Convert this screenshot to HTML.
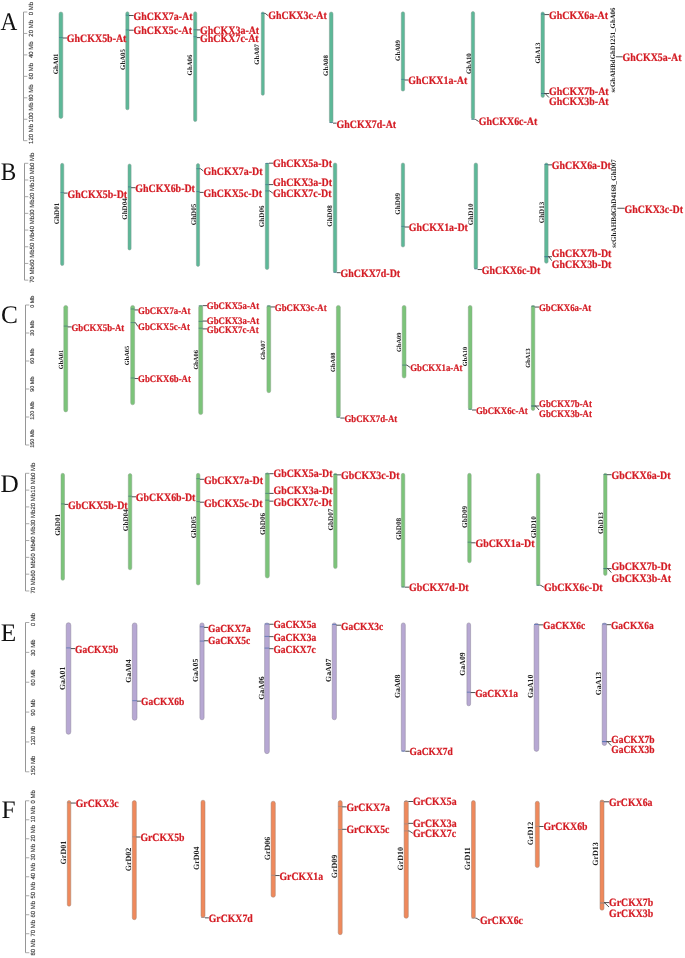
<!DOCTYPE html>
<html><head><meta charset="utf-8"><title>CKX chromosome map</title>
<style>html,body{margin:0;padding:0;background:#fff;}svg{display:block;will-change:transform;}</style>
</head><body>
<svg width="685" height="958" viewBox="0 0 685 958" text-rendering="geometricPrecision">
<rect width="685" height="958" fill="#fff"/>
<text transform="translate(0.4,30.3) scale(0.92,1.0)" font-family='"Liberation Serif", serif' font-size="25.3" fill="#111">A</text>
<line x1="23.5" y1="12" x2="23.5" y2="140.7" stroke="#8a8a8a" stroke-width="0.9"/>
<line x1="23.5" y1="12" x2="27.3" y2="12" stroke="#a0a0a0" stroke-width="0.9"/>
<text transform="translate(32.5,15.2) rotate(-90)" font-family='"Liberation Sans", sans-serif' font-size="6.0" fill="#333" stroke="#333" stroke-width="0.12">0 Mb</text>
<line x1="23.5" y1="33.45" x2="27.3" y2="33.45" stroke="#a0a0a0" stroke-width="0.9"/>
<text transform="translate(32.5,36.65) rotate(-90)" font-family='"Liberation Sans", sans-serif' font-size="6.0" fill="#333" stroke="#333" stroke-width="0.12">20 Mb</text>
<line x1="23.5" y1="54.9" x2="27.3" y2="54.9" stroke="#a0a0a0" stroke-width="0.9"/>
<text transform="translate(32.5,58.1) rotate(-90)" font-family='"Liberation Sans", sans-serif' font-size="6.0" fill="#333" stroke="#333" stroke-width="0.12">40 Mb</text>
<line x1="23.5" y1="76.35" x2="27.3" y2="76.35" stroke="#a0a0a0" stroke-width="0.9"/>
<text transform="translate(32.5,79.55) rotate(-90)" font-family='"Liberation Sans", sans-serif' font-size="6.0" fill="#333" stroke="#333" stroke-width="0.12">60 Mb</text>
<line x1="23.5" y1="97.8" x2="27.3" y2="97.8" stroke="#a0a0a0" stroke-width="0.9"/>
<text transform="translate(32.5,101) rotate(-90)" font-family='"Liberation Sans", sans-serif' font-size="6.0" fill="#333" stroke="#333" stroke-width="0.12">80 Mb</text>
<line x1="23.5" y1="119.25" x2="27.3" y2="119.25" stroke="#a0a0a0" stroke-width="0.9"/>
<text transform="translate(32.5,122.45) rotate(-90)" font-family='"Liberation Sans", sans-serif' font-size="6.0" fill="#333" stroke="#333" stroke-width="0.12">100 Mb</text>
<line x1="23.5" y1="140.7" x2="27.3" y2="140.7" stroke="#a0a0a0" stroke-width="0.9"/>
<text transform="translate(32.5,143.9) rotate(-90)" font-family='"Liberation Sans", sans-serif' font-size="6.0" fill="#333" stroke="#333" stroke-width="0.12">120 Mb</text>
<rect x="59" y="12" width="3.8" height="106.5" rx="1.9" ry="1.9" fill="#5db898" stroke="#7f9a90" stroke-width="0.5"/>
<text transform="translate(57.9,63.9) rotate(-90)" text-anchor="middle" font-family='"Liberation Serif", serif' font-weight="bold" font-size="6.8" fill="#222">GhA01</text>
<rect x="125.8" y="11.8" width="3.2" height="98" rx="1.6" ry="1.6" fill="#5db898" stroke="#7f9a90" stroke-width="0.5"/>
<text transform="translate(125.4,59.5) rotate(-90)" text-anchor="middle" font-family='"Liberation Serif", serif' font-weight="bold" font-size="6.8" fill="#222">GhA05</text>
<rect x="193.6" y="11.8" width="3.2" height="109.7" rx="1.6" ry="1.6" fill="#5db898" stroke="#7f9a90" stroke-width="0.5"/>
<text transform="translate(192.3,65) rotate(-90)" text-anchor="middle" font-family='"Liberation Serif", serif' font-weight="bold" font-size="6.8" fill="#222">GhA06</text>
<rect x="261.3" y="12" width="3" height="83.3" rx="1.5" ry="1.5" fill="#5db898" stroke="#7f9a90" stroke-width="0.5"/>
<text transform="translate(259.2,54.4) rotate(-90)" text-anchor="middle" font-family='"Liberation Serif", serif' font-weight="bold" font-size="6.8" fill="#222">GhA07</text>
<rect x="329.4" y="12" width="3.6" height="110.8" rx="1.8" ry="1.8" fill="#5db898" stroke="#7f9a90" stroke-width="0.5"/>
<text transform="translate(328.3,65.5) rotate(-90)" text-anchor="middle" font-family='"Liberation Serif", serif' font-weight="bold" font-size="6.8" fill="#222">GhA08</text>
<rect x="401.3" y="11.8" width="3.3" height="79.3" rx="1.65" ry="1.65" fill="#5db898" stroke="#7f9a90" stroke-width="0.5"/>
<text transform="translate(400,50.5) rotate(-90)" text-anchor="middle" font-family='"Liberation Serif", serif' font-weight="bold" font-size="6.8" fill="#222">GhA09</text>
<rect x="471.3" y="11.5" width="3.3" height="107.7" rx="1.65" ry="1.65" fill="#5db898" stroke="#7f9a90" stroke-width="0.5"/>
<text transform="translate(470.6,63.7) rotate(-90)" text-anchor="middle" font-family='"Liberation Serif", serif' font-weight="bold" font-size="6.8" fill="#222">GhA10</text>
<rect x="541" y="12" width="3.4" height="85.5" rx="1.7" ry="1.7" fill="#5db898" stroke="#7f9a90" stroke-width="0.5"/>
<text transform="translate(540.2,53.1) rotate(-90)" text-anchor="middle" font-family='"Liberation Serif", serif' font-weight="bold" font-size="6.8" fill="#222">GhA13</text>
<text transform="translate(615.4,50.1) rotate(-90)" text-anchor="middle" font-family='"Liberation Serif", serif' font-weight="bold" font-size="6.8" fill="#222">scGhAHBdGhD1251_GhA06</text>
<line x1="59" y1="37.5" x2="62.8" y2="37.5" stroke="#3b7a90" stroke-width="0.7"/>
<line x1="62.8" y1="38" x2="67" y2="38" stroke="#454545" stroke-width="0.95"/>
<text transform="translate(66.8,42.31) scale(1,1.14)" font-family='"Liberation Serif", serif' font-weight="bold" font-size="9.95" fill="#d41c24" stroke="#d41c24" stroke-width="0.2">GhCKX5b-At</text>
<line x1="125.8" y1="15.2" x2="129" y2="15.2" stroke="#3b7a90" stroke-width="0.7"/>
<line x1="129" y1="15.5" x2="133.7" y2="15.5" stroke="#454545" stroke-width="0.95"/>
<text transform="translate(133.5,19.61) scale(1,1.14)" font-family='"Liberation Serif", serif' font-weight="bold" font-size="9.95" fill="#d41c24" stroke="#d41c24" stroke-width="0.2">GhCKX7a-At</text>
<line x1="125.8" y1="29.9" x2="129" y2="29.9" stroke="#3b7a90" stroke-width="0.7"/>
<line x1="129" y1="30.2" x2="133.7" y2="30.2" stroke="#454545" stroke-width="0.95"/>
<text transform="translate(133.5,34.31) scale(1,1.14)" font-family='"Liberation Serif", serif' font-weight="bold" font-size="9.95" fill="#d41c24" stroke="#d41c24" stroke-width="0.2">GhCKX5c-At</text>
<line x1="193.6" y1="29.7" x2="196.8" y2="29.7" stroke="#3b7a90" stroke-width="0.7"/>
<line x1="196.8" y1="29.9" x2="200.3" y2="29.9" stroke="#454545" stroke-width="0.95"/>
<text transform="translate(200.1,33.91) scale(1,1.14)" font-family='"Liberation Serif", serif' font-weight="bold" font-size="9.95" fill="#d41c24" stroke="#d41c24" stroke-width="0.2">GhCKX3a-At</text>
<line x1="193.6" y1="36.7" x2="196.8" y2="36.7" stroke="#3b7a90" stroke-width="0.7"/>
<line x1="196.8" y1="37.6" x2="200.3" y2="37.6" stroke="#454545" stroke-width="0.95"/>
<text transform="translate(200.1,42.31) scale(1,1.14)" font-family='"Liberation Serif", serif' font-weight="bold" font-size="9.95" fill="#d41c24" stroke="#d41c24" stroke-width="0.2">GhCKX7c-At</text>
<line x1="261.3" y1="13.3" x2="264.3" y2="13.3" stroke="#3b7a90" stroke-width="0.7"/>
<polyline points="264.3,13.3 265.1,13.3 268.1,15.6" fill="none" stroke="#454545" stroke-width="0.95"/>
<text transform="translate(268.2,19.41) scale(1,1.14)" font-family='"Liberation Serif", serif' font-weight="bold" font-size="9.95" fill="#d41c24" stroke="#d41c24" stroke-width="0.2">GhCKX3c-At</text>
<line x1="329.4" y1="122.5" x2="333" y2="122.5" stroke="#3b7a90" stroke-width="0.7"/>
<line x1="333" y1="123.15" x2="336.7" y2="123.15" stroke="#454545" stroke-width="0.95"/>
<text transform="translate(336.5,127.61) scale(1,1.14)" font-family='"Liberation Serif", serif' font-weight="bold" font-size="9.95" fill="#d41c24" stroke="#d41c24" stroke-width="0.2">GhCKX7d-At</text>
<line x1="401.3" y1="79.4" x2="404.6" y2="79.4" stroke="#3b7a90" stroke-width="0.7"/>
<line x1="404.6" y1="80" x2="408.4" y2="80" stroke="#454545" stroke-width="0.95"/>
<text transform="translate(408.2,84.41) scale(1,1.14)" font-family='"Liberation Serif", serif' font-weight="bold" font-size="9.95" fill="#d41c24" stroke="#d41c24" stroke-width="0.2">GhCKX1a-At</text>
<line x1="471.3" y1="119.4" x2="474.6" y2="119.4" stroke="#3b7a90" stroke-width="0.7"/>
<polyline points="474.6,119.4 475.4,119.4 478.7,121.5" fill="none" stroke="#454545" stroke-width="0.95"/>
<text transform="translate(478.8,125.31) scale(1,1.14)" font-family='"Liberation Serif", serif' font-weight="bold" font-size="9.95" fill="#d41c24" stroke="#d41c24" stroke-width="0.2">GhCKX6c-At</text>
<line x1="541" y1="14" x2="544.4" y2="14" stroke="#3b7a90" stroke-width="0.7"/>
<line x1="544.4" y1="14.6" x2="549.2" y2="14.6" stroke="#454545" stroke-width="0.95"/>
<text transform="translate(549,19.01) scale(1,1.14)" font-family='"Liberation Serif", serif' font-weight="bold" font-size="9.95" fill="#d41c24" stroke="#d41c24" stroke-width="0.2">GhCKX6a-At</text>
<line x1="541" y1="93.5" x2="544.4" y2="93.5" stroke="#3b7a90" stroke-width="0.7"/>
<line x1="544.4" y1="93.5" x2="549.2" y2="93.5" stroke="#454545" stroke-width="0.95"/>
<text transform="translate(549,94.71) scale(1,1.14)" font-family='"Liberation Serif", serif' font-weight="bold" font-size="9.95" fill="#d41c24" stroke="#d41c24" stroke-width="0.2">GhCKX7b-At</text>
<line x1="541" y1="93.5" x2="544.4" y2="93.5" stroke="#3b7a90" stroke-width="0.7"/>
<polyline points="544.4,93.5 545.2,93.5 548.9,97.5" fill="none" stroke="#454545" stroke-width="0.95"/>
<text transform="translate(549,105.21) scale(1,1.14)" font-family='"Liberation Serif", serif' font-weight="bold" font-size="9.95" fill="#d41c24" stroke="#d41c24" stroke-width="0.2">GhCKX3b-At</text>
<line x1="615.9" y1="56.8" x2="622.7" y2="56.8" stroke="#454545" stroke-width="0.95"/>
<text transform="translate(622.5,61.01) scale(1,1.14)" font-family='"Liberation Serif", serif' font-weight="bold" font-size="9.95" fill="#d41c24" stroke="#d41c24" stroke-width="0.2">GhCKX5a-At</text>
<text transform="translate(0.8,180.3) scale(0.92,1.0)" font-family='"Liberation Serif", serif' font-size="25.3" fill="#111">B</text>
<line x1="24.5" y1="163.3" x2="24.5" y2="280.13" stroke="#8a8a8a" stroke-width="0.9"/>
<line x1="24.5" y1="163.3" x2="28.3" y2="163.3" stroke="#a0a0a0" stroke-width="0.9"/>
<text transform="translate(34.1,165.9) rotate(-90)" font-family='"Liberation Sans", sans-serif' font-size="6.0" fill="#333" stroke="#333" stroke-width="0.12">0 Mb</text>
<line x1="24.5" y1="179.99" x2="28.3" y2="179.99" stroke="#a0a0a0" stroke-width="0.9"/>
<text transform="translate(34.1,182.59) rotate(-90)" font-family='"Liberation Sans", sans-serif' font-size="6.0" fill="#333" stroke="#333" stroke-width="0.12">10 Mb</text>
<line x1="24.5" y1="196.68" x2="28.3" y2="196.68" stroke="#a0a0a0" stroke-width="0.9"/>
<text transform="translate(34.1,199.28) rotate(-90)" font-family='"Liberation Sans", sans-serif' font-size="6.0" fill="#333" stroke="#333" stroke-width="0.12">20 Mb</text>
<line x1="24.5" y1="213.37" x2="28.3" y2="213.37" stroke="#a0a0a0" stroke-width="0.9"/>
<text transform="translate(34.1,215.97) rotate(-90)" font-family='"Liberation Sans", sans-serif' font-size="6.0" fill="#333" stroke="#333" stroke-width="0.12">30 Mb</text>
<line x1="24.5" y1="230.06" x2="28.3" y2="230.06" stroke="#a0a0a0" stroke-width="0.9"/>
<text transform="translate(34.1,232.66) rotate(-90)" font-family='"Liberation Sans", sans-serif' font-size="6.0" fill="#333" stroke="#333" stroke-width="0.12">40 Mb</text>
<line x1="24.5" y1="246.75" x2="28.3" y2="246.75" stroke="#a0a0a0" stroke-width="0.9"/>
<text transform="translate(34.1,249.35) rotate(-90)" font-family='"Liberation Sans", sans-serif' font-size="6.0" fill="#333" stroke="#333" stroke-width="0.12">50 Mb</text>
<line x1="24.5" y1="263.44" x2="28.3" y2="263.44" stroke="#a0a0a0" stroke-width="0.9"/>
<text transform="translate(34.1,266.04) rotate(-90)" font-family='"Liberation Sans", sans-serif' font-size="6.0" fill="#333" stroke="#333" stroke-width="0.12">60 Mb</text>
<line x1="24.5" y1="280.13" x2="28.3" y2="280.13" stroke="#a0a0a0" stroke-width="0.9"/>
<text transform="translate(34.1,282.73) rotate(-90)" font-family='"Liberation Sans", sans-serif' font-size="6.0" fill="#333" stroke="#333" stroke-width="0.12">70 Mb</text>
<rect x="60.6" y="163.3" width="3.2" height="102.2" rx="1.6" ry="1.6" fill="#5db898" stroke="#7f9a90" stroke-width="0.5"/>
<text transform="translate(59.2,213.5) rotate(-90)" text-anchor="middle" font-family='"Liberation Serif", serif' font-weight="bold" font-size="7.1" fill="#222">GhD01</text>
<rect x="128" y="164" width="3.1" height="86" rx="1.55" ry="1.55" fill="#5db898" stroke="#7f9a90" stroke-width="0.5"/>
<text transform="translate(126.9,209) rotate(-90)" text-anchor="middle" font-family='"Liberation Serif", serif' font-weight="bold" font-size="7.1" fill="#222">GhD04</text>
<rect x="196.4" y="163.6" width="3.2" height="102.8" rx="1.6" ry="1.6" fill="#5db898" stroke="#7f9a90" stroke-width="0.5"/>
<text transform="translate(195.9,214.5) rotate(-90)" text-anchor="middle" font-family='"Liberation Serif", serif' font-weight="bold" font-size="7.1" fill="#222">GhD05</text>
<rect x="265.3" y="163" width="3.5" height="106.6" rx="1.75" ry="1.75" fill="#5db898" stroke="#7f9a90" stroke-width="0.5"/>
<text transform="translate(264.1,216.3) rotate(-90)" text-anchor="middle" font-family='"Liberation Serif", serif' font-weight="bold" font-size="7.1" fill="#222">GhD06</text>
<rect x="333.3" y="163" width="3.5" height="109.5" rx="1.75" ry="1.75" fill="#5db898" stroke="#7f9a90" stroke-width="0.5"/>
<text transform="translate(332.3,216) rotate(-90)" text-anchor="middle" font-family='"Liberation Serif", serif' font-weight="bold" font-size="7.1" fill="#222">GhD08</text>
<rect x="401.3" y="163" width="3.3" height="84" rx="1.65" ry="1.65" fill="#5db898" stroke="#7f9a90" stroke-width="0.5"/>
<text transform="translate(399.9,203.8) rotate(-90)" text-anchor="middle" font-family='"Liberation Serif", serif' font-weight="bold" font-size="7.1" fill="#222">GhD09</text>
<rect x="474.1" y="163" width="3.5" height="106" rx="1.75" ry="1.75" fill="#5db898" stroke="#7f9a90" stroke-width="0.5"/>
<text transform="translate(473,214.3) rotate(-90)" text-anchor="middle" font-family='"Liberation Serif", serif' font-weight="bold" font-size="7.1" fill="#222">GhD10</text>
<rect x="544.6" y="163" width="3.5" height="100.3" rx="1.75" ry="1.75" fill="#5db898" stroke="#7f9a90" stroke-width="0.5"/>
<text transform="translate(543.6,212.5) rotate(-90)" text-anchor="middle" font-family='"Liberation Serif", serif' font-weight="bold" font-size="7.1" fill="#222">GhD13</text>
<text transform="translate(616,203.5) rotate(-90)" text-anchor="middle" font-family='"Liberation Serif", serif' font-weight="bold" font-size="7.1" fill="#222">scGhAHBdGhD4168_GhD07</text>
<line x1="60.6" y1="192.5" x2="63.8" y2="192.5" stroke="#3b7a90" stroke-width="0.7"/>
<line x1="63.8" y1="193.1" x2="67.7" y2="193.1" stroke="#454545" stroke-width="0.95"/>
<text transform="translate(67.5,197.51) scale(1,1.14)" font-family='"Liberation Serif", serif' font-weight="bold" font-size="9.95" fill="#d41c24" stroke="#d41c24" stroke-width="0.2">GhCKX5b-Dt</text>
<line x1="128" y1="186.9" x2="131.1" y2="186.9" stroke="#3b7a90" stroke-width="0.7"/>
<line x1="131.1" y1="187.7" x2="135.5" y2="187.7" stroke="#454545" stroke-width="0.95"/>
<text transform="translate(135.3,192.31) scale(1,1.14)" font-family='"Liberation Serif", serif' font-weight="bold" font-size="9.95" fill="#d41c24" stroke="#d41c24" stroke-width="0.2">GhCKX6b-Dt</text>
<line x1="196.4" y1="168.7" x2="199.6" y2="168.7" stroke="#3b7a90" stroke-width="0.7"/>
<polyline points="199.6,168.7 200.4,168.7 203.4,171" fill="none" stroke="#454545" stroke-width="0.95"/>
<text transform="translate(203.5,174.81) scale(1,1.14)" font-family='"Liberation Serif", serif' font-weight="bold" font-size="9.95" fill="#d41c24" stroke="#d41c24" stroke-width="0.2">GhCKX7a-Dt</text>
<line x1="196.4" y1="191.6" x2="199.6" y2="191.6" stroke="#3b7a90" stroke-width="0.7"/>
<line x1="199.6" y1="192.4" x2="203.7" y2="192.4" stroke="#454545" stroke-width="0.95"/>
<text transform="translate(203.5,197.01) scale(1,1.14)" font-family='"Liberation Serif", serif' font-weight="bold" font-size="9.95" fill="#d41c24" stroke="#d41c24" stroke-width="0.2">GhCKX5c-Dt</text>
<line x1="265.3" y1="163.5" x2="268.8" y2="163.5" stroke="#3b7a90" stroke-width="0.7"/>
<line x1="268.8" y1="163.2" x2="273.2" y2="163.2" stroke="#454545" stroke-width="0.95"/>
<text transform="translate(273,166.71) scale(1,1.14)" font-family='"Liberation Serif", serif' font-weight="bold" font-size="9.95" fill="#d41c24" stroke="#d41c24" stroke-width="0.2">GhCKX5a-Dt</text>
<line x1="265.3" y1="184.6" x2="268.8" y2="184.6" stroke="#3b7a90" stroke-width="0.7"/>
<line x1="268.8" y1="184.6" x2="273.2" y2="184.6" stroke="#454545" stroke-width="0.95"/>
<text transform="translate(273,185.81) scale(1,1.14)" font-family='"Liberation Serif", serif' font-weight="bold" font-size="9.95" fill="#d41c24" stroke="#d41c24" stroke-width="0.2">GhCKX3a-Dt</text>
<line x1="265.3" y1="190.9" x2="268.8" y2="190.9" stroke="#3b7a90" stroke-width="0.7"/>
<polyline points="268.8,190.9 269.6,190.9 272.9,193.2" fill="none" stroke="#454545" stroke-width="0.95"/>
<text transform="translate(273,197.01) scale(1,1.14)" font-family='"Liberation Serif", serif' font-weight="bold" font-size="9.95" fill="#d41c24" stroke="#d41c24" stroke-width="0.2">GhCKX7c-Dt</text>
<line x1="333.3" y1="272.3" x2="336.8" y2="272.3" stroke="#3b7a90" stroke-width="0.7"/>
<line x1="336.8" y1="272.7" x2="340.7" y2="272.7" stroke="#454545" stroke-width="0.95"/>
<text transform="translate(340.5,276.91) scale(1,1.14)" font-family='"Liberation Serif", serif' font-weight="bold" font-size="9.95" fill="#d41c24" stroke="#d41c24" stroke-width="0.2">GhCKX7d-Dt</text>
<line x1="401.3" y1="226.4" x2="404.6" y2="226.4" stroke="#3b7a90" stroke-width="0.7"/>
<line x1="404.6" y1="227" x2="409" y2="227" stroke="#454545" stroke-width="0.95"/>
<text transform="translate(408.8,231.41) scale(1,1.14)" font-family='"Liberation Serif", serif' font-weight="bold" font-size="9.95" fill="#d41c24" stroke="#d41c24" stroke-width="0.2">GhCKX1a-Dt</text>
<line x1="474.1" y1="268.8" x2="477.6" y2="268.8" stroke="#3b7a90" stroke-width="0.7"/>
<line x1="477.6" y1="269.55" x2="481.9" y2="269.55" stroke="#454545" stroke-width="0.95"/>
<text transform="translate(481.7,274.11) scale(1,1.14)" font-family='"Liberation Serif", serif' font-weight="bold" font-size="9.95" fill="#d41c24" stroke="#d41c24" stroke-width="0.2">GhCKX6c-Dt</text>
<line x1="544.6" y1="164.5" x2="548.1" y2="164.5" stroke="#3b7a90" stroke-width="0.7"/>
<line x1="548.1" y1="164.85" x2="552" y2="164.85" stroke="#454545" stroke-width="0.95"/>
<text transform="translate(551.8,169.01) scale(1,1.14)" font-family='"Liberation Serif", serif' font-weight="bold" font-size="9.95" fill="#d41c24" stroke="#d41c24" stroke-width="0.2">GhCKX6a-Dt</text>
<line x1="544.6" y1="256.7" x2="548.1" y2="256.7" stroke="#3b7a90" stroke-width="0.7"/>
<line x1="548.1" y1="256.7" x2="552" y2="256.7" stroke="#454545" stroke-width="0.95"/>
<text transform="translate(551.8,257.01) scale(1,1.14)" font-family='"Liberation Serif", serif' font-weight="bold" font-size="9.95" fill="#d41c24" stroke="#d41c24" stroke-width="0.2">GhCKX7b-Dt</text>
<line x1="544.6" y1="256.7" x2="548.1" y2="256.7" stroke="#3b7a90" stroke-width="0.7"/>
<polyline points="548.1,256.7 548.9,256.7 551.7,260.7" fill="none" stroke="#454545" stroke-width="0.95"/>
<text transform="translate(551.8,268.21) scale(1,1.14)" font-family='"Liberation Serif", serif' font-weight="bold" font-size="9.95" fill="#d41c24" stroke="#d41c24" stroke-width="0.2">GhCKX3b-Dt</text>
<line x1="617.3" y1="208.25" x2="624.7" y2="208.25" stroke="#454545" stroke-width="0.95"/>
<text transform="translate(624.5,212.91) scale(1,1.14)" font-family='"Liberation Serif", serif' font-weight="bold" font-size="9.95" fill="#d41c24" stroke="#d41c24" stroke-width="0.2">GhCKX3c-Dt</text>
<text transform="translate(1.1,322.9) scale(1.0,1.0)" font-family='"Liberation Serif", serif' font-size="25.3" fill="#111">C</text>
<line x1="25.5" y1="305" x2="25.5" y2="445" stroke="#8a8a8a" stroke-width="0.9"/>
<line x1="25.5" y1="305" x2="29.3" y2="305" stroke="#a0a0a0" stroke-width="0.9"/>
<text transform="translate(34.1,307.8) rotate(-90)" font-family='"Liberation Sans", sans-serif' font-size="5.5" fill="#333" stroke="#333" stroke-width="0.12">0 Mb</text>
<line x1="25.5" y1="333" x2="29.3" y2="333" stroke="#a0a0a0" stroke-width="0.9"/>
<text transform="translate(34.1,335.8) rotate(-90)" font-family='"Liberation Sans", sans-serif' font-size="5.5" fill="#333" stroke="#333" stroke-width="0.12">30 Mb</text>
<line x1="25.5" y1="361" x2="29.3" y2="361" stroke="#a0a0a0" stroke-width="0.9"/>
<text transform="translate(34.1,363.8) rotate(-90)" font-family='"Liberation Sans", sans-serif' font-size="5.5" fill="#333" stroke="#333" stroke-width="0.12">60 Mb</text>
<line x1="25.5" y1="389" x2="29.3" y2="389" stroke="#a0a0a0" stroke-width="0.9"/>
<text transform="translate(34.1,391.8) rotate(-90)" font-family='"Liberation Sans", sans-serif' font-size="5.5" fill="#333" stroke="#333" stroke-width="0.12">90 Mb</text>
<line x1="25.5" y1="417" x2="29.3" y2="417" stroke="#a0a0a0" stroke-width="0.9"/>
<text transform="translate(34.1,419.8) rotate(-90)" font-family='"Liberation Sans", sans-serif' font-size="5.5" fill="#333" stroke="#333" stroke-width="0.12">120 Mb</text>
<line x1="25.5" y1="445" x2="29.3" y2="445" stroke="#a0a0a0" stroke-width="0.9"/>
<text transform="translate(34.1,447.8) rotate(-90)" font-family='"Liberation Sans", sans-serif' font-size="5.5" fill="#333" stroke="#333" stroke-width="0.12">150 Mb</text>
<rect x="63.8" y="305.4" width="3.9" height="106.5" rx="1.95" ry="1.95" fill="#7cc47a" stroke="#8aa58a" stroke-width="0.5"/>
<text transform="translate(62.9,359.6) rotate(-90)" text-anchor="middle" font-family='"Liberation Serif", serif' font-weight="bold" font-size="6.35" fill="#222">GbA01</text>
<rect x="130.7" y="305.4" width="3.9" height="99.4" rx="1.95" ry="1.95" fill="#7cc47a" stroke="#8aa58a" stroke-width="0.5"/>
<text transform="translate(128.8,355.5) rotate(-90)" text-anchor="middle" font-family='"Liberation Serif", serif' font-weight="bold" font-size="6.35" fill="#222">GbA05</text>
<rect x="198.7" y="305.4" width="4" height="109.2" rx="2" ry="2" fill="#7cc47a" stroke="#8aa58a" stroke-width="0.5"/>
<text transform="translate(198.2,359.9) rotate(-90)" text-anchor="middle" font-family='"Liberation Serif", serif' font-weight="bold" font-size="6.35" fill="#222">GbA06</text>
<rect x="266.9" y="305.4" width="3.8" height="87.3" rx="1.9" ry="1.9" fill="#7cc47a" stroke="#8aa58a" stroke-width="0.5"/>
<text transform="translate(265.3,350) rotate(-90)" text-anchor="middle" font-family='"Liberation Serif", serif' font-weight="bold" font-size="6.35" fill="#222">GbA07</text>
<rect x="336.4" y="305.4" width="3.9" height="112.1" rx="1.95" ry="1.95" fill="#7cc47a" stroke="#8aa58a" stroke-width="0.5"/>
<text transform="translate(335.2,362.2) rotate(-90)" text-anchor="middle" font-family='"Liberation Serif", serif' font-weight="bold" font-size="6.35" fill="#222">GbA08</text>
<rect x="402.2" y="305.4" width="3.8" height="72.6" rx="1.9" ry="1.9" fill="#7cc47a" stroke="#8aa58a" stroke-width="0.5"/>
<text transform="translate(400.6,342.3) rotate(-90)" text-anchor="middle" font-family='"Liberation Serif", serif' font-weight="bold" font-size="6.35" fill="#222">GbA09</text>
<rect x="468.3" y="305.4" width="3.7" height="104.1" rx="1.85" ry="1.85" fill="#7cc47a" stroke="#8aa58a" stroke-width="0.5"/>
<text transform="translate(466.7,356.6) rotate(-90)" text-anchor="middle" font-family='"Liberation Serif", serif' font-weight="bold" font-size="6.35" fill="#222">GbA10</text>
<rect x="531.3" y="305.4" width="3.5" height="105.1" rx="1.75" ry="1.75" fill="#7cc47a" stroke="#8aa58a" stroke-width="0.5"/>
<text transform="translate(530.1,358.1) rotate(-90)" text-anchor="middle" font-family='"Liberation Serif", serif' font-weight="bold" font-size="6.35" fill="#222">GbA13</text>
<line x1="63.8" y1="326.1" x2="67.7" y2="326.1" stroke="#3e7a78" stroke-width="0.7"/>
<line x1="67.7" y1="326.9" x2="71.7" y2="326.9" stroke="#454545" stroke-width="0.95"/>
<text transform="translate(71.5,331.09) scale(1,1.14)" font-family='"Liberation Serif", serif' font-weight="bold" font-size="8.8" fill="#d41c24" stroke="#d41c24" stroke-width="0.2">GbCKX5b-At</text>
<line x1="130.7" y1="309" x2="134.6" y2="309" stroke="#3e7a78" stroke-width="0.7"/>
<line x1="134.6" y1="309.95" x2="138.3" y2="309.95" stroke="#454545" stroke-width="0.95"/>
<text transform="translate(138.1,314.29) scale(1,1.14)" font-family='"Liberation Serif", serif' font-weight="bold" font-size="8.8" fill="#d41c24" stroke="#d41c24" stroke-width="0.2">GbCKX7a-At</text>
<line x1="130.7" y1="322.6" x2="134.6" y2="322.6" stroke="#3e7a78" stroke-width="0.7"/>
<polyline points="134.6,322.6 135.4,322.6 138,326.6" fill="none" stroke="#454545" stroke-width="0.95"/>
<text transform="translate(138.1,330.39) scale(1,1.14)" font-family='"Liberation Serif", serif' font-weight="bold" font-size="8.8" fill="#d41c24" stroke="#d41c24" stroke-width="0.2">GbCKX5c-At</text>
<line x1="130.7" y1="378" x2="134.6" y2="378" stroke="#3e7a78" stroke-width="0.7"/>
<line x1="134.6" y1="378.55" x2="138.3" y2="378.55" stroke="#454545" stroke-width="0.95"/>
<text transform="translate(138.1,382.49) scale(1,1.14)" font-family='"Liberation Serif", serif' font-weight="bold" font-size="8.8" fill="#d41c24" stroke="#d41c24" stroke-width="0.2">GbCKX6b-At</text>
<line x1="198.7" y1="305.8" x2="202.7" y2="305.8" stroke="#3e7a78" stroke-width="0.7"/>
<line x1="202.7" y1="305.65" x2="207" y2="305.65" stroke="#454545" stroke-width="0.95"/>
<text transform="translate(206.8,308.89) scale(1,1.14)" font-family='"Liberation Serif", serif' font-weight="bold" font-size="8.8" fill="#d41c24" stroke="#d41c24" stroke-width="0.2">GbCKX5a-At</text>
<line x1="198.7" y1="321.4" x2="202.7" y2="321.4" stroke="#3e7a78" stroke-width="0.7"/>
<line x1="202.7" y1="321.05" x2="207" y2="321.05" stroke="#454545" stroke-width="0.95"/>
<text transform="translate(206.8,324.09) scale(1,1.14)" font-family='"Liberation Serif", serif' font-weight="bold" font-size="8.8" fill="#d41c24" stroke="#d41c24" stroke-width="0.2">GbCKX3a-At</text>
<line x1="198.7" y1="328.2" x2="202.7" y2="328.2" stroke="#3e7a78" stroke-width="0.7"/>
<line x1="202.7" y1="328.9" x2="207" y2="328.9" stroke="#454545" stroke-width="0.95"/>
<text transform="translate(206.8,332.99) scale(1,1.14)" font-family='"Liberation Serif", serif' font-weight="bold" font-size="8.8" fill="#d41c24" stroke="#d41c24" stroke-width="0.2">GbCKX7c-At</text>
<line x1="266.9" y1="306" x2="270.7" y2="306" stroke="#3e7a78" stroke-width="0.7"/>
<line x1="270.7" y1="306.95" x2="275" y2="306.95" stroke="#454545" stroke-width="0.95"/>
<text transform="translate(274.8,311.29) scale(1,1.14)" font-family='"Liberation Serif", serif' font-weight="bold" font-size="8.8" fill="#d41c24" stroke="#d41c24" stroke-width="0.2">GbCKX3c-At</text>
<line x1="336.4" y1="417.3" x2="340.3" y2="417.3" stroke="#3e7a78" stroke-width="0.7"/>
<line x1="340.3" y1="418.05" x2="344.7" y2="418.05" stroke="#454545" stroke-width="0.95"/>
<text transform="translate(344.5,422.19) scale(1,1.14)" font-family='"Liberation Serif", serif' font-weight="bold" font-size="8.8" fill="#d41c24" stroke="#d41c24" stroke-width="0.2">GbCKX7d-At</text>
<line x1="402.2" y1="365.1" x2="406" y2="365.1" stroke="#3e7a78" stroke-width="0.7"/>
<polyline points="406,365.1 406.8,365.1 410.1,367.4" fill="none" stroke="#454545" stroke-width="0.95"/>
<text transform="translate(410.2,370.79) scale(1,1.14)" font-family='"Liberation Serif", serif' font-weight="bold" font-size="8.8" fill="#d41c24" stroke="#d41c24" stroke-width="0.2">GbCKX1a-At</text>
<line x1="468.3" y1="409.3" x2="472" y2="409.3" stroke="#3e7a78" stroke-width="0.7"/>
<line x1="472" y1="410" x2="476.1" y2="410" stroke="#454545" stroke-width="0.95"/>
<text transform="translate(475.9,414.09) scale(1,1.14)" font-family='"Liberation Serif", serif' font-weight="bold" font-size="8.8" fill="#d41c24" stroke="#d41c24" stroke-width="0.2">GbCKX6c-At</text>
<line x1="531.3" y1="306.2" x2="534.8" y2="306.2" stroke="#3e7a78" stroke-width="0.7"/>
<line x1="534.8" y1="307.05" x2="539.1" y2="307.05" stroke="#454545" stroke-width="0.95"/>
<text transform="translate(538.9,311.29) scale(1,1.14)" font-family='"Liberation Serif", serif' font-weight="bold" font-size="8.8" fill="#d41c24" stroke="#d41c24" stroke-width="0.2">GbCKX6a-At</text>
<line x1="531.3" y1="406" x2="534.8" y2="406" stroke="#3e7a78" stroke-width="0.7"/>
<line x1="534.8" y1="406" x2="539.3" y2="406" stroke="#454545" stroke-width="0.95"/>
<text transform="translate(539.1,407.09) scale(1,1.14)" font-family='"Liberation Serif", serif' font-weight="bold" font-size="8.8" fill="#d41c24" stroke="#d41c24" stroke-width="0.2">GbCKX7b-At</text>
<line x1="531.3" y1="406" x2="534.8" y2="406" stroke="#3e7a78" stroke-width="0.7"/>
<polyline points="534.8,406 535.6,406 539,410" fill="none" stroke="#454545" stroke-width="0.95"/>
<text transform="translate(539.1,417.19) scale(1,1.14)" font-family='"Liberation Serif", serif' font-weight="bold" font-size="8.8" fill="#d41c24" stroke="#d41c24" stroke-width="0.2">GbCKX3b-At</text>
<text transform="translate(0.5,492) scale(1.0,1.0)" font-family='"Liberation Serif", serif' font-size="25.3" fill="#111">D</text>
<line x1="25.5" y1="473.3" x2="25.5" y2="590.97" stroke="#8a8a8a" stroke-width="0.9"/>
<line x1="25.5" y1="473.3" x2="29.3" y2="473.3" stroke="#a0a0a0" stroke-width="0.9"/>
<text transform="translate(34.6,475.9) rotate(-90)" font-family='"Liberation Sans", sans-serif' font-size="6.0" fill="#333" stroke="#333" stroke-width="0.12">0 Mb</text>
<line x1="25.5" y1="490.11" x2="29.3" y2="490.11" stroke="#a0a0a0" stroke-width="0.9"/>
<text transform="translate(34.6,492.71) rotate(-90)" font-family='"Liberation Sans", sans-serif' font-size="6.0" fill="#333" stroke="#333" stroke-width="0.12">10 Mb</text>
<line x1="25.5" y1="506.92" x2="29.3" y2="506.92" stroke="#a0a0a0" stroke-width="0.9"/>
<text transform="translate(34.6,509.52) rotate(-90)" font-family='"Liberation Sans", sans-serif' font-size="6.0" fill="#333" stroke="#333" stroke-width="0.12">20 Mb</text>
<line x1="25.5" y1="523.73" x2="29.3" y2="523.73" stroke="#a0a0a0" stroke-width="0.9"/>
<text transform="translate(34.6,526.33) rotate(-90)" font-family='"Liberation Sans", sans-serif' font-size="6.0" fill="#333" stroke="#333" stroke-width="0.12">30 Mb</text>
<line x1="25.5" y1="540.54" x2="29.3" y2="540.54" stroke="#a0a0a0" stroke-width="0.9"/>
<text transform="translate(34.6,543.14) rotate(-90)" font-family='"Liberation Sans", sans-serif' font-size="6.0" fill="#333" stroke="#333" stroke-width="0.12">40 Mb</text>
<line x1="25.5" y1="557.35" x2="29.3" y2="557.35" stroke="#a0a0a0" stroke-width="0.9"/>
<text transform="translate(34.6,559.95) rotate(-90)" font-family='"Liberation Sans", sans-serif' font-size="6.0" fill="#333" stroke="#333" stroke-width="0.12">50 Mb</text>
<line x1="25.5" y1="574.16" x2="29.3" y2="574.16" stroke="#a0a0a0" stroke-width="0.9"/>
<text transform="translate(34.6,576.76) rotate(-90)" font-family='"Liberation Sans", sans-serif' font-size="6.0" fill="#333" stroke="#333" stroke-width="0.12">60 Mb</text>
<line x1="25.5" y1="590.97" x2="29.3" y2="590.97" stroke="#a0a0a0" stroke-width="0.9"/>
<text transform="translate(34.6,593.57) rotate(-90)" font-family='"Liberation Sans", sans-serif' font-size="6.0" fill="#333" stroke="#333" stroke-width="0.12">70 Mb</text>
<rect x="61" y="473.3" width="3.5" height="107" rx="1.75" ry="1.75" fill="#7cc47a" stroke="#8aa58a" stroke-width="0.5"/>
<text transform="translate(59.9,524.8) rotate(-90)" text-anchor="middle" font-family='"Liberation Serif", serif' font-weight="bold" font-size="7.2" fill="#222">GbD01</text>
<rect x="128.3" y="473.6" width="3.5" height="96.2" rx="1.75" ry="1.75" fill="#7cc47a" stroke="#8aa58a" stroke-width="0.5"/>
<text transform="translate(127.6,520.2) rotate(-90)" text-anchor="middle" font-family='"Liberation Serif", serif' font-weight="bold" font-size="7.2" fill="#222">GbD04</text>
<rect x="196.4" y="473.3" width="3.5" height="111.7" rx="1.75" ry="1.75" fill="#7cc47a" stroke="#8aa58a" stroke-width="0.5"/>
<text transform="translate(196.4,527.2) rotate(-90)" text-anchor="middle" font-family='"Liberation Serif", serif' font-weight="bold" font-size="7.2" fill="#222">GbD05</text>
<rect x="265.3" y="472.8" width="4" height="105.2" rx="2" ry="2" fill="#7cc47a" stroke="#8aa58a" stroke-width="0.5"/>
<text transform="translate(264.6,523.9) rotate(-90)" text-anchor="middle" font-family='"Liberation Serif", serif' font-weight="bold" font-size="7.2" fill="#222">GbD06</text>
<rect x="333.6" y="473.3" width="3.5" height="95.3" rx="1.75" ry="1.75" fill="#7cc47a" stroke="#8aa58a" stroke-width="0.5"/>
<text transform="translate(332.9,519.6) rotate(-90)" text-anchor="middle" font-family='"Liberation Serif", serif' font-weight="bold" font-size="7.2" fill="#222">GbD07</text>
<rect x="401.3" y="473.3" width="3.5" height="114" rx="1.75" ry="1.75" fill="#7cc47a" stroke="#8aa58a" stroke-width="0.5"/>
<text transform="translate(400.6,528.9) rotate(-90)" text-anchor="middle" font-family='"Liberation Serif", serif' font-weight="bold" font-size="7.2" fill="#222">GbD08</text>
<rect x="467.7" y="473.3" width="3.5" height="89.5" rx="1.75" ry="1.75" fill="#7cc47a" stroke="#8aa58a" stroke-width="0.5"/>
<text transform="translate(467,516.9) rotate(-90)" text-anchor="middle" font-family='"Liberation Serif", serif' font-weight="bold" font-size="7.2" fill="#222">GbD09</text>
<rect x="536.4" y="473.3" width="3.5" height="112.2" rx="1.75" ry="1.75" fill="#7cc47a" stroke="#8aa58a" stroke-width="0.5"/>
<text transform="translate(535.5,527.2) rotate(-90)" text-anchor="middle" font-family='"Liberation Serif", serif' font-weight="bold" font-size="7.2" fill="#222">GbD10</text>
<rect x="603.6" y="473.3" width="3.4" height="102.2" rx="1.7" ry="1.7" fill="#7cc47a" stroke="#8aa58a" stroke-width="0.5"/>
<text transform="translate(602.5,523.1) rotate(-90)" text-anchor="middle" font-family='"Liberation Serif", serif' font-weight="bold" font-size="7.2" fill="#222">GbD13</text>
<line x1="61" y1="503.9" x2="64.5" y2="503.9" stroke="#3e7a78" stroke-width="0.7"/>
<line x1="64.5" y1="504.4" x2="68.2" y2="504.4" stroke="#454545" stroke-width="0.95"/>
<text transform="translate(68,508.71) scale(1,1.14)" font-family='"Liberation Serif", serif' font-weight="bold" font-size="9.95" fill="#d41c24" stroke="#d41c24" stroke-width="0.2">GbCKX5b-Dt</text>
<line x1="128.3" y1="496.2" x2="131.8" y2="496.2" stroke="#3e7a78" stroke-width="0.7"/>
<line x1="131.8" y1="496.8" x2="136" y2="496.8" stroke="#454545" stroke-width="0.95"/>
<text transform="translate(135.8,501.21) scale(1,1.14)" font-family='"Liberation Serif", serif' font-weight="bold" font-size="9.95" fill="#d41c24" stroke="#d41c24" stroke-width="0.2">GbCKX6b-Dt</text>
<line x1="196.4" y1="478.7" x2="199.9" y2="478.7" stroke="#3e7a78" stroke-width="0.7"/>
<line x1="199.9" y1="479.3" x2="204.2" y2="479.3" stroke="#454545" stroke-width="0.95"/>
<text transform="translate(204,483.71) scale(1,1.14)" font-family='"Liberation Serif", serif' font-weight="bold" font-size="9.95" fill="#d41c24" stroke="#d41c24" stroke-width="0.2">GbCKX7a-Dt</text>
<line x1="196.4" y1="501.6" x2="199.9" y2="501.6" stroke="#3e7a78" stroke-width="0.7"/>
<line x1="199.9" y1="502.2" x2="204.2" y2="502.2" stroke="#454545" stroke-width="0.95"/>
<text transform="translate(204,506.61) scale(1,1.14)" font-family='"Liberation Serif", serif' font-weight="bold" font-size="9.95" fill="#d41c24" stroke="#d41c24" stroke-width="0.2">GbCKX5c-Dt</text>
<line x1="265.3" y1="473.8" x2="269.3" y2="473.8" stroke="#3e7a78" stroke-width="0.7"/>
<line x1="269.3" y1="473.7" x2="273.6" y2="473.7" stroke="#454545" stroke-width="0.95"/>
<text transform="translate(273.4,477.41) scale(1,1.14)" font-family='"Liberation Serif", serif' font-weight="bold" font-size="9.95" fill="#d41c24" stroke="#d41c24" stroke-width="0.2">GbCKX5a-Dt</text>
<line x1="265.3" y1="493.4" x2="269.3" y2="493.4" stroke="#3e7a78" stroke-width="0.7"/>
<line x1="269.3" y1="493.4" x2="273.6" y2="493.4" stroke="#454545" stroke-width="0.95"/>
<text transform="translate(273.4,494.21) scale(1,1.14)" font-family='"Liberation Serif", serif' font-weight="bold" font-size="9.95" fill="#d41c24" stroke="#d41c24" stroke-width="0.2">GbCKX3a-Dt</text>
<line x1="265.3" y1="500.2" x2="269.3" y2="500.2" stroke="#3e7a78" stroke-width="0.7"/>
<line x1="269.3" y1="501.15" x2="273.6" y2="501.15" stroke="#454545" stroke-width="0.95"/>
<text transform="translate(273.4,505.91) scale(1,1.14)" font-family='"Liberation Serif", serif' font-weight="bold" font-size="9.95" fill="#d41c24" stroke="#d41c24" stroke-width="0.2">GbCKX7c-Dt</text>
<line x1="333.6" y1="474.5" x2="337.1" y2="474.5" stroke="#3e7a78" stroke-width="0.7"/>
<line x1="337.1" y1="474.85" x2="341.2" y2="474.85" stroke="#454545" stroke-width="0.95"/>
<text transform="translate(341,479.01) scale(1,1.14)" font-family='"Liberation Serif", serif' font-weight="bold" font-size="9.95" fill="#d41c24" stroke="#d41c24" stroke-width="0.2">GbCKX3c-Dt</text>
<line x1="401.3" y1="587" x2="404.8" y2="587" stroke="#3e7a78" stroke-width="0.7"/>
<line x1="404.8" y1="587.15" x2="409.2" y2="587.15" stroke="#454545" stroke-width="0.95"/>
<text transform="translate(409,591.11) scale(1,1.14)" font-family='"Liberation Serif", serif' font-weight="bold" font-size="9.95" fill="#d41c24" stroke="#d41c24" stroke-width="0.2">GbCKX7d-Dt</text>
<line x1="467.7" y1="542.2" x2="471.2" y2="542.2" stroke="#3e7a78" stroke-width="0.7"/>
<line x1="471.2" y1="542.8" x2="475.6" y2="542.8" stroke="#454545" stroke-width="0.95"/>
<text transform="translate(475.4,547.21) scale(1,1.14)" font-family='"Liberation Serif", serif' font-weight="bold" font-size="9.95" fill="#d41c24" stroke="#d41c24" stroke-width="0.2">GbCKX1a-Dt</text>
<line x1="536.4" y1="585.3" x2="539.9" y2="585.3" stroke="#3e7a78" stroke-width="0.7"/>
<polyline points="539.9,585.3 540.7,585.3 544,587.3" fill="none" stroke="#454545" stroke-width="0.95"/>
<text transform="translate(544.1,591.11) scale(1,1.14)" font-family='"Liberation Serif", serif' font-weight="bold" font-size="9.95" fill="#d41c24" stroke="#d41c24" stroke-width="0.2">GbCKX6c-Dt</text>
<line x1="603.6" y1="474.5" x2="607" y2="474.5" stroke="#3e7a78" stroke-width="0.7"/>
<line x1="607" y1="474.7" x2="611.6" y2="474.7" stroke="#454545" stroke-width="0.95"/>
<text transform="translate(611.4,478.71) scale(1,1.14)" font-family='"Liberation Serif", serif' font-weight="bold" font-size="9.95" fill="#d41c24" stroke="#d41c24" stroke-width="0.2">GbCKX6a-Dt</text>
<line x1="603.6" y1="568.6" x2="607" y2="568.6" stroke="#3e7a78" stroke-width="0.7"/>
<line x1="607" y1="568.6" x2="611.6" y2="568.6" stroke="#454545" stroke-width="0.95"/>
<text transform="translate(611.4,570.31) scale(1,1.14)" font-family='"Liberation Serif", serif' font-weight="bold" font-size="9.95" fill="#d41c24" stroke="#d41c24" stroke-width="0.2">GbCKX7b-Dt</text>
<line x1="603.6" y1="568.6" x2="607" y2="568.6" stroke="#3e7a78" stroke-width="0.7"/>
<polyline points="607,568.6 607.8,568.6 611.3,572.6" fill="none" stroke="#454545" stroke-width="0.95"/>
<text transform="translate(611.4,581.51) scale(1,1.14)" font-family='"Liberation Serif", serif' font-weight="bold" font-size="9.95" fill="#d41c24" stroke="#d41c24" stroke-width="0.2">GbCKX3b-At</text>
<text transform="translate(0.7,640.5) scale(1.0,1.0)" font-family='"Liberation Serif", serif' font-size="25.3" fill="#111">E</text>
<line x1="25.5" y1="622.5" x2="25.5" y2="771.8" stroke="#8a8a8a" stroke-width="0.9"/>
<line x1="25.5" y1="622.5" x2="29.3" y2="622.5" stroke="#a0a0a0" stroke-width="0.9"/>
<text transform="translate(35,626.1) rotate(-90)" font-family='"Liberation Sans", sans-serif' font-size="5.9" fill="#333" stroke="#333" stroke-width="0.12">0 Mb</text>
<line x1="25.5" y1="652.36" x2="29.3" y2="652.36" stroke="#a0a0a0" stroke-width="0.9"/>
<text transform="translate(35,655.96) rotate(-90)" font-family='"Liberation Sans", sans-serif' font-size="5.9" fill="#333" stroke="#333" stroke-width="0.12">30 Mb</text>
<line x1="25.5" y1="682.22" x2="29.3" y2="682.22" stroke="#a0a0a0" stroke-width="0.9"/>
<text transform="translate(35,685.82) rotate(-90)" font-family='"Liberation Sans", sans-serif' font-size="5.9" fill="#333" stroke="#333" stroke-width="0.12">60 Mb</text>
<line x1="25.5" y1="712.08" x2="29.3" y2="712.08" stroke="#a0a0a0" stroke-width="0.9"/>
<text transform="translate(35,715.68) rotate(-90)" font-family='"Liberation Sans", sans-serif' font-size="5.9" fill="#333" stroke="#333" stroke-width="0.12">90 Mb</text>
<line x1="25.5" y1="741.94" x2="29.3" y2="741.94" stroke="#a0a0a0" stroke-width="0.9"/>
<text transform="translate(35,745.54) rotate(-90)" font-family='"Liberation Sans", sans-serif' font-size="5.9" fill="#333" stroke="#333" stroke-width="0.12">120 Mb</text>
<line x1="25.5" y1="771.8" x2="29.3" y2="771.8" stroke="#a0a0a0" stroke-width="0.9"/>
<text transform="translate(35,775.4) rotate(-90)" font-family='"Liberation Sans", sans-serif' font-size="5.9" fill="#333" stroke="#333" stroke-width="0.12">150 Mb</text>
<rect x="66.2" y="622.7" width="4.6" height="111.6" rx="2.3" ry="2.3" fill="#b7a8d3" stroke="#8a8598" stroke-width="0.5"/>
<text transform="translate(65,678.3) rotate(-90)" text-anchor="middle" font-family='"Liberation Serif", serif' font-weight="bold" font-size="7.8" fill="#222">GaA01</text>
<rect x="132.3" y="622.9" width="4.7" height="97.4" rx="2.35" ry="2.35" fill="#b7a8d3" stroke="#8a8598" stroke-width="0.5"/>
<text transform="translate(131.1,671.1) rotate(-90)" text-anchor="middle" font-family='"Liberation Serif", serif' font-weight="bold" font-size="7.8" fill="#222">GaA04</text>
<rect x="199.9" y="622.9" width="4.2" height="96.9" rx="2.1" ry="2.1" fill="#b7a8d3" stroke="#8a8598" stroke-width="0.5"/>
<text transform="translate(198.2,670.4) rotate(-90)" text-anchor="middle" font-family='"Liberation Serif", serif' font-weight="bold" font-size="7.8" fill="#222">GaA05</text>
<rect x="264.6" y="622.9" width="4.7" height="130.8" rx="2.35" ry="2.35" fill="#b7a8d3" stroke="#8a8598" stroke-width="0.5"/>
<text transform="translate(263.6,688) rotate(-90)" text-anchor="middle" font-family='"Liberation Serif", serif' font-weight="bold" font-size="7.8" fill="#222">GaA06</text>
<rect x="332.2" y="622.9" width="4.2" height="96.9" rx="2.1" ry="2.1" fill="#b7a8d3" stroke="#8a8598" stroke-width="0.5"/>
<text transform="translate(330.5,670.2) rotate(-90)" text-anchor="middle" font-family='"Liberation Serif", serif' font-weight="bold" font-size="7.8" fill="#222">GaA07</text>
<rect x="401.3" y="622.9" width="4" height="128.5" rx="2" ry="2" fill="#b7a8d3" stroke="#8a8598" stroke-width="0.5"/>
<text transform="translate(399.9,686.3) rotate(-90)" text-anchor="middle" font-family='"Liberation Serif", serif' font-weight="bold" font-size="7.8" fill="#222">GaA08</text>
<rect x="466.9" y="622.9" width="3.7" height="82.9" rx="1.85" ry="1.85" fill="#b7a8d3" stroke="#8a8598" stroke-width="0.5"/>
<text transform="translate(465.2,664) rotate(-90)" text-anchor="middle" font-family='"Liberation Serif", serif' font-weight="bold" font-size="7.8" fill="#222">GaA09</text>
<rect x="534.1" y="623.3" width="4.7" height="128.1" rx="2.35" ry="2.35" fill="#b7a8d3" stroke="#8a8598" stroke-width="0.5"/>
<text transform="translate(533,686.3) rotate(-90)" text-anchor="middle" font-family='"Liberation Serif", serif' font-weight="bold" font-size="7.8" fill="#222">GaA10</text>
<rect x="602.2" y="623" width="4.4" height="122.5" rx="2.2" ry="2.2" fill="#b7a8d3" stroke="#8a8598" stroke-width="0.5"/>
<text transform="translate(600.9,683.5) rotate(-90)" text-anchor="middle" font-family='"Liberation Serif", serif' font-weight="bold" font-size="7.8" fill="#222">GaA13</text>
<line x1="66.2" y1="647.9" x2="70.8" y2="647.9" stroke="#4d6db0" stroke-width="0.7"/>
<line x1="70.8" y1="648.6" x2="75.2" y2="648.6" stroke="#454545" stroke-width="0.95"/>
<text transform="translate(75,652.95) scale(1,1.14)" font-family='"Liberation Serif", serif' font-weight="bold" font-size="9.5" fill="#d41c24" stroke="#d41c24" stroke-width="0.2">GaCKX5b</text>
<line x1="132.3" y1="700.7" x2="137" y2="700.7" stroke="#4d6db0" stroke-width="0.7"/>
<line x1="137" y1="701.15" x2="141.3" y2="701.15" stroke="#454545" stroke-width="0.95"/>
<text transform="translate(141.1,705.25) scale(1,1.14)" font-family='"Liberation Serif", serif' font-weight="bold" font-size="9.5" fill="#d41c24" stroke="#d41c24" stroke-width="0.2">GaCKX6b</text>
<line x1="199.9" y1="626.8" x2="204.1" y2="626.8" stroke="#4d6db0" stroke-width="0.7"/>
<line x1="204.1" y1="627.4" x2="208.2" y2="627.4" stroke="#454545" stroke-width="0.95"/>
<text transform="translate(208,631.65) scale(1,1.14)" font-family='"Liberation Serif", serif' font-weight="bold" font-size="9.5" fill="#d41c24" stroke="#d41c24" stroke-width="0.2">GaCKX7a</text>
<line x1="199.9" y1="641.1" x2="204.1" y2="641.1" stroke="#4d6db0" stroke-width="0.7"/>
<line x1="204.1" y1="640.75" x2="208.2" y2="640.75" stroke="#454545" stroke-width="0.95"/>
<text transform="translate(208,644.05) scale(1,1.14)" font-family='"Liberation Serif", serif' font-weight="bold" font-size="9.5" fill="#d41c24" stroke="#d41c24" stroke-width="0.2">GaCKX5c</text>
<line x1="264.6" y1="624" x2="269.3" y2="624" stroke="#4d6db0" stroke-width="0.7"/>
<line x1="269.3" y1="624.25" x2="273.6" y2="624.25" stroke="#454545" stroke-width="0.95"/>
<text transform="translate(273.4,628.15) scale(1,1.14)" font-family='"Liberation Serif", serif' font-weight="bold" font-size="9.5" fill="#d41c24" stroke="#d41c24" stroke-width="0.2">GaCKX5a</text>
<line x1="264.6" y1="636.4" x2="269.3" y2="636.4" stroke="#4d6db0" stroke-width="0.7"/>
<line x1="269.3" y1="636.65" x2="273.6" y2="636.65" stroke="#454545" stroke-width="0.95"/>
<text transform="translate(273.4,640.55) scale(1,1.14)" font-family='"Liberation Serif", serif' font-weight="bold" font-size="9.5" fill="#d41c24" stroke="#d41c24" stroke-width="0.2">GaCKX3a</text>
<line x1="264.6" y1="648.1" x2="269.3" y2="648.1" stroke="#4d6db0" stroke-width="0.7"/>
<line x1="269.3" y1="648.7" x2="273.6" y2="648.7" stroke="#454545" stroke-width="0.95"/>
<text transform="translate(273.4,652.95) scale(1,1.14)" font-family='"Liberation Serif", serif' font-weight="bold" font-size="9.5" fill="#d41c24" stroke="#d41c24" stroke-width="0.2">GaCKX7c</text>
<line x1="332.2" y1="624.5" x2="336.4" y2="624.5" stroke="#4d6db0" stroke-width="0.7"/>
<line x1="336.4" y1="625.2" x2="341.2" y2="625.2" stroke="#454545" stroke-width="0.95"/>
<text transform="translate(341,629.55) scale(1,1.14)" font-family='"Liberation Serif", serif' font-weight="bold" font-size="9.5" fill="#d41c24" stroke="#d41c24" stroke-width="0.2">GaCKX3c</text>
<line x1="401.3" y1="751.1" x2="405.3" y2="751.1" stroke="#4d6db0" stroke-width="0.7"/>
<line x1="405.3" y1="751.25" x2="409.7" y2="751.25" stroke="#454545" stroke-width="0.95"/>
<text transform="translate(409.5,755.05) scale(1,1.14)" font-family='"Liberation Serif", serif' font-weight="bold" font-size="9.5" fill="#d41c24" stroke="#d41c24" stroke-width="0.2">GaCKX7d</text>
<line x1="466.9" y1="692.2" x2="470.6" y2="692.2" stroke="#4d6db0" stroke-width="0.7"/>
<line x1="470.6" y1="692.55" x2="475.4" y2="692.55" stroke="#454545" stroke-width="0.95"/>
<text transform="translate(475.2,696.55) scale(1,1.14)" font-family='"Liberation Serif", serif' font-weight="bold" font-size="9.5" fill="#d41c24" stroke="#d41c24" stroke-width="0.2">GaCKX1a</text>
<line x1="534.1" y1="624.5" x2="538.8" y2="624.5" stroke="#4d6db0" stroke-width="0.7"/>
<line x1="538.8" y1="624.85" x2="543.2" y2="624.85" stroke="#454545" stroke-width="0.95"/>
<text transform="translate(543,628.85) scale(1,1.14)" font-family='"Liberation Serif", serif' font-weight="bold" font-size="9.5" fill="#d41c24" stroke="#d41c24" stroke-width="0.2">GaCKX6c</text>
<line x1="602.2" y1="624" x2="606.6" y2="624" stroke="#4d6db0" stroke-width="0.7"/>
<line x1="606.6" y1="624.7" x2="611.1" y2="624.7" stroke="#454545" stroke-width="0.95"/>
<text transform="translate(610.9,629.05) scale(1,1.14)" font-family='"Liberation Serif", serif' font-weight="bold" font-size="9.5" fill="#d41c24" stroke="#d41c24" stroke-width="0.2">GaCKX6a</text>
<line x1="602.2" y1="741.6" x2="606.6" y2="741.6" stroke="#4d6db0" stroke-width="0.7"/>
<line x1="606.6" y1="741.6" x2="611.5" y2="741.6" stroke="#454545" stroke-width="0.95"/>
<text transform="translate(611.3,742.65) scale(1,1.14)" font-family='"Liberation Serif", serif' font-weight="bold" font-size="9.5" fill="#d41c24" stroke="#d41c24" stroke-width="0.2">GaCKX7b</text>
<line x1="602.2" y1="741.6" x2="606.6" y2="741.6" stroke="#4d6db0" stroke-width="0.7"/>
<polyline points="606.6,741.6 607.4,741.6 611.2,745.6" fill="none" stroke="#454545" stroke-width="0.95"/>
<text transform="translate(611.3,752.55) scale(1,1.14)" font-family='"Liberation Serif", serif' font-weight="bold" font-size="9.5" fill="#d41c24" stroke="#d41c24" stroke-width="0.2">GaCKX3b</text>
<text transform="translate(1.5,817.6) scale(1.0,1.0)" font-family='"Liberation Serif", serif' font-size="25.3" fill="#111">F</text>
<line x1="25.5" y1="800.8" x2="25.5" y2="952.72" stroke="#8a8a8a" stroke-width="0.9"/>
<line x1="25.5" y1="800.8" x2="29.3" y2="800.8" stroke="#a0a0a0" stroke-width="0.9"/>
<text transform="translate(34.8,803.6) rotate(-90)" font-family='"Liberation Sans", sans-serif' font-size="6.0" fill="#333" stroke="#333" stroke-width="0.12">0 Mb</text>
<line x1="25.5" y1="819.79" x2="29.3" y2="819.79" stroke="#a0a0a0" stroke-width="0.9"/>
<text transform="translate(34.8,822.59) rotate(-90)" font-family='"Liberation Sans", sans-serif' font-size="6.0" fill="#333" stroke="#333" stroke-width="0.12">10 Mb</text>
<line x1="25.5" y1="838.78" x2="29.3" y2="838.78" stroke="#a0a0a0" stroke-width="0.9"/>
<text transform="translate(34.8,841.58) rotate(-90)" font-family='"Liberation Sans", sans-serif' font-size="6.0" fill="#333" stroke="#333" stroke-width="0.12">20 Mb</text>
<line x1="25.5" y1="857.77" x2="29.3" y2="857.77" stroke="#a0a0a0" stroke-width="0.9"/>
<text transform="translate(34.8,860.57) rotate(-90)" font-family='"Liberation Sans", sans-serif' font-size="6.0" fill="#333" stroke="#333" stroke-width="0.12">30 Mb</text>
<line x1="25.5" y1="876.76" x2="29.3" y2="876.76" stroke="#a0a0a0" stroke-width="0.9"/>
<text transform="translate(34.8,879.56) rotate(-90)" font-family='"Liberation Sans", sans-serif' font-size="6.0" fill="#333" stroke="#333" stroke-width="0.12">40 Mb</text>
<line x1="25.5" y1="895.75" x2="29.3" y2="895.75" stroke="#a0a0a0" stroke-width="0.9"/>
<text transform="translate(34.8,898.55) rotate(-90)" font-family='"Liberation Sans", sans-serif' font-size="6.0" fill="#333" stroke="#333" stroke-width="0.12">50 Mb</text>
<line x1="25.5" y1="914.74" x2="29.3" y2="914.74" stroke="#a0a0a0" stroke-width="0.9"/>
<text transform="translate(34.8,917.54) rotate(-90)" font-family='"Liberation Sans", sans-serif' font-size="6.0" fill="#333" stroke="#333" stroke-width="0.12">60 Mb</text>
<line x1="25.5" y1="933.73" x2="29.3" y2="933.73" stroke="#a0a0a0" stroke-width="0.9"/>
<text transform="translate(34.8,936.53) rotate(-90)" font-family='"Liberation Sans", sans-serif' font-size="6.0" fill="#333" stroke="#333" stroke-width="0.12">70 Mb</text>
<line x1="25.5" y1="952.72" x2="29.3" y2="952.72" stroke="#a0a0a0" stroke-width="0.9"/>
<text transform="translate(34.8,955.52) rotate(-90)" font-family='"Liberation Sans", sans-serif' font-size="6.0" fill="#333" stroke="#333" stroke-width="0.12">80 Mb</text>
<rect x="67.3" y="800.6" width="3.5" height="105.6" rx="1.75" ry="1.75" fill="#ef895c" stroke="#a08070" stroke-width="0.5"/>
<text transform="translate(65.7,852.6) rotate(-90)" text-anchor="middle" font-family='"Liberation Serif", serif' font-weight="bold" font-size="8.0" fill="#222">GrD01</text>
<rect x="132.3" y="800.6" width="4" height="119.1" rx="2" ry="2" fill="#ef895c" stroke="#a08070" stroke-width="0.5"/>
<text transform="translate(130.7,859.5) rotate(-90)" text-anchor="middle" font-family='"Liberation Serif", serif' font-weight="bold" font-size="8.0" fill="#222">GrD02</text>
<rect x="201" y="800.2" width="4" height="117.4" rx="2" ry="2" fill="#ef895c" stroke="#a08070" stroke-width="0.5"/>
<text transform="translate(199.2,858.3) rotate(-90)" text-anchor="middle" font-family='"Liberation Serif", serif' font-weight="bold" font-size="8.0" fill="#222">GrD04</text>
<rect x="271.1" y="801.2" width="4.2" height="96.1" rx="2.1" ry="2.1" fill="#ef895c" stroke="#a08070" stroke-width="0.5"/>
<text transform="translate(270,848.4) rotate(-90)" text-anchor="middle" font-family='"Liberation Serif", serif' font-weight="bold" font-size="8.0" fill="#222">GrD06</text>
<rect x="338.2" y="800.6" width="4" height="134.1" rx="2" ry="2" fill="#ef895c" stroke="#a08070" stroke-width="0.5"/>
<text transform="translate(336.8,866.5) rotate(-90)" text-anchor="middle" font-family='"Liberation Serif", serif' font-weight="bold" font-size="8.0" fill="#222">GrD09</text>
<rect x="404.1" y="800.6" width="4.2" height="117.7" rx="2.1" ry="2.1" fill="#ef895c" stroke="#a08070" stroke-width="0.5"/>
<text transform="translate(402.9,858.7) rotate(-90)" text-anchor="middle" font-family='"Liberation Serif", serif' font-weight="bold" font-size="8.0" fill="#222">GrD10</text>
<rect x="471.5" y="800.6" width="3.8" height="117.7" rx="1.9" ry="1.9" fill="#ef895c" stroke="#a08070" stroke-width="0.5"/>
<text transform="translate(469.9,858.7) rotate(-90)" text-anchor="middle" font-family='"Liberation Serif", serif' font-weight="bold" font-size="8.0" fill="#222">GrD11</text>
<rect x="535.3" y="801.2" width="4" height="66.4" rx="2" ry="2" fill="#ef895c" stroke="#a08070" stroke-width="0.5"/>
<text transform="translate(533.4,833.5) rotate(-90)" text-anchor="middle" font-family='"Liberation Serif", serif' font-weight="bold" font-size="8.0" fill="#222">GrD12</text>
<rect x="600" y="800" width="4" height="110.2" rx="2" ry="2" fill="#ef895c" stroke="#a08070" stroke-width="0.5"/>
<text transform="translate(598.3,854) rotate(-90)" text-anchor="middle" font-family='"Liberation Serif", serif' font-weight="bold" font-size="8.0" fill="#222">GrD13</text>
<line x1="67.3" y1="802.7" x2="70.8" y2="802.7" stroke="#9a8a88" stroke-width="0.7"/>
<line x1="70.8" y1="803.05" x2="75.9" y2="803.05" stroke="#454545" stroke-width="0.95"/>
<text transform="translate(75.7,807.16) scale(1,1.14)" font-family='"Liberation Serif", serif' font-weight="bold" font-size="9.8" fill="#d41c24" stroke="#d41c24" stroke-width="0.2">GrCKX3c</text>
<line x1="132.3" y1="836.8" x2="136.3" y2="836.8" stroke="#9a8a88" stroke-width="0.7"/>
<line x1="136.3" y1="837" x2="140.6" y2="837" stroke="#454545" stroke-width="0.95"/>
<text transform="translate(140.4,840.96) scale(1,1.14)" font-family='"Liberation Serif", serif' font-weight="bold" font-size="9.8" fill="#d41c24" stroke="#d41c24" stroke-width="0.2">GrCKX5b</text>
<line x1="201" y1="917.4" x2="205" y2="917.4" stroke="#9a8a88" stroke-width="0.7"/>
<line x1="205" y1="917.85" x2="208.9" y2="917.85" stroke="#454545" stroke-width="0.95"/>
<text transform="translate(208.7,922.06) scale(1,1.14)" font-family='"Liberation Serif", serif' font-weight="bold" font-size="9.8" fill="#d41c24" stroke="#d41c24" stroke-width="0.2">GrCKX7d</text>
<line x1="271.1" y1="875.3" x2="275.3" y2="875.3" stroke="#9a8a88" stroke-width="0.7"/>
<line x1="275.3" y1="875.55" x2="279.7" y2="875.55" stroke="#454545" stroke-width="0.95"/>
<text transform="translate(279.5,879.56) scale(1,1.14)" font-family='"Liberation Serif", serif' font-weight="bold" font-size="9.8" fill="#d41c24" stroke="#d41c24" stroke-width="0.2">GrCKX1a</text>
<line x1="338.2" y1="806.4" x2="342.2" y2="806.4" stroke="#9a8a88" stroke-width="0.7"/>
<line x1="342.2" y1="806.85" x2="346.6" y2="806.85" stroke="#454545" stroke-width="0.95"/>
<text transform="translate(346.4,811.06) scale(1,1.14)" font-family='"Liberation Serif", serif' font-weight="bold" font-size="9.8" fill="#d41c24" stroke="#d41c24" stroke-width="0.2">GrCKX7a</text>
<line x1="338.2" y1="829.5" x2="342.2" y2="829.5" stroke="#9a8a88" stroke-width="0.7"/>
<line x1="342.2" y1="829.3" x2="346.6" y2="829.3" stroke="#454545" stroke-width="0.95"/>
<text transform="translate(346.4,832.86) scale(1,1.14)" font-family='"Liberation Serif", serif' font-weight="bold" font-size="9.8" fill="#d41c24" stroke="#d41c24" stroke-width="0.2">GrCKX5c</text>
<line x1="404.1" y1="801.5" x2="408.3" y2="801.5" stroke="#9a8a88" stroke-width="0.7"/>
<line x1="408.3" y1="801.5" x2="413.2" y2="801.5" stroke="#454545" stroke-width="0.95"/>
<text transform="translate(413,805.26) scale(1,1.14)" font-family='"Liberation Serif", serif' font-weight="bold" font-size="9.8" fill="#d41c24" stroke="#d41c24" stroke-width="0.2">GrCKX5a</text>
<line x1="404.1" y1="823.9" x2="408.3" y2="823.9" stroke="#9a8a88" stroke-width="0.7"/>
<line x1="408.3" y1="823.35" x2="413.2" y2="823.35" stroke="#454545" stroke-width="0.95"/>
<text transform="translate(413,826.56) scale(1,1.14)" font-family='"Liberation Serif", serif' font-weight="bold" font-size="9.8" fill="#d41c24" stroke="#d41c24" stroke-width="0.2">GrCKX3a</text>
<line x1="404.1" y1="830.9" x2="408.3" y2="830.9" stroke="#9a8a88" stroke-width="0.7"/>
<polyline points="408.3,830.9 409.1,830.9 412.9,833.3" fill="none" stroke="#454545" stroke-width="0.95"/>
<text transform="translate(413,837.06) scale(1,1.14)" font-family='"Liberation Serif", serif' font-weight="bold" font-size="9.8" fill="#d41c24" stroke="#d41c24" stroke-width="0.2">GrCKX7c</text>
<line x1="471.5" y1="918.1" x2="475.3" y2="918.1" stroke="#9a8a88" stroke-width="0.7"/>
<polyline points="475.3,918.1 476.1,918.1 479.8,920.2" fill="none" stroke="#454545" stroke-width="0.95"/>
<text transform="translate(479.9,923.96) scale(1,1.14)" font-family='"Liberation Serif", serif' font-weight="bold" font-size="9.8" fill="#d41c24" stroke="#d41c24" stroke-width="0.2">GrCKX6c</text>
<line x1="535.3" y1="826.3" x2="539.3" y2="826.3" stroke="#9a8a88" stroke-width="0.7"/>
<line x1="539.3" y1="826.5" x2="543.6" y2="826.5" stroke="#454545" stroke-width="0.95"/>
<text transform="translate(543.4,830.46) scale(1,1.14)" font-family='"Liberation Serif", serif' font-weight="bold" font-size="9.8" fill="#d41c24" stroke="#d41c24" stroke-width="0.2">GrCKX6b</text>
<line x1="600" y1="801.4" x2="604" y2="801.4" stroke="#9a8a88" stroke-width="0.7"/>
<line x1="604" y1="801.8" x2="609.1" y2="801.8" stroke="#454545" stroke-width="0.95"/>
<text transform="translate(608.9,805.96) scale(1,1.14)" font-family='"Liberation Serif", serif' font-weight="bold" font-size="9.8" fill="#d41c24" stroke="#d41c24" stroke-width="0.2">GrCKX6a</text>
<line x1="600" y1="903" x2="604" y2="903" stroke="#9a8a88" stroke-width="0.7"/>
<line x1="604" y1="902.6" x2="609.3" y2="902.6" stroke="#454545" stroke-width="0.95"/>
<text transform="translate(609.1,905.96) scale(1,1.14)" font-family='"Liberation Serif", serif' font-weight="bold" font-size="9.8" fill="#d41c24" stroke="#d41c24" stroke-width="0.2">GrCKX7b</text>
<line x1="600" y1="903" x2="604" y2="903" stroke="#9a8a88" stroke-width="0.7"/>
<polyline points="604,903 604.8,903 609,907" fill="none" stroke="#454545" stroke-width="0.95"/>
<text transform="translate(609.1,916.86) scale(1,1.14)" font-family='"Liberation Serif", serif' font-weight="bold" font-size="9.8" fill="#d41c24" stroke="#d41c24" stroke-width="0.2">GrCKX3b</text>
</svg>
</body></html>
